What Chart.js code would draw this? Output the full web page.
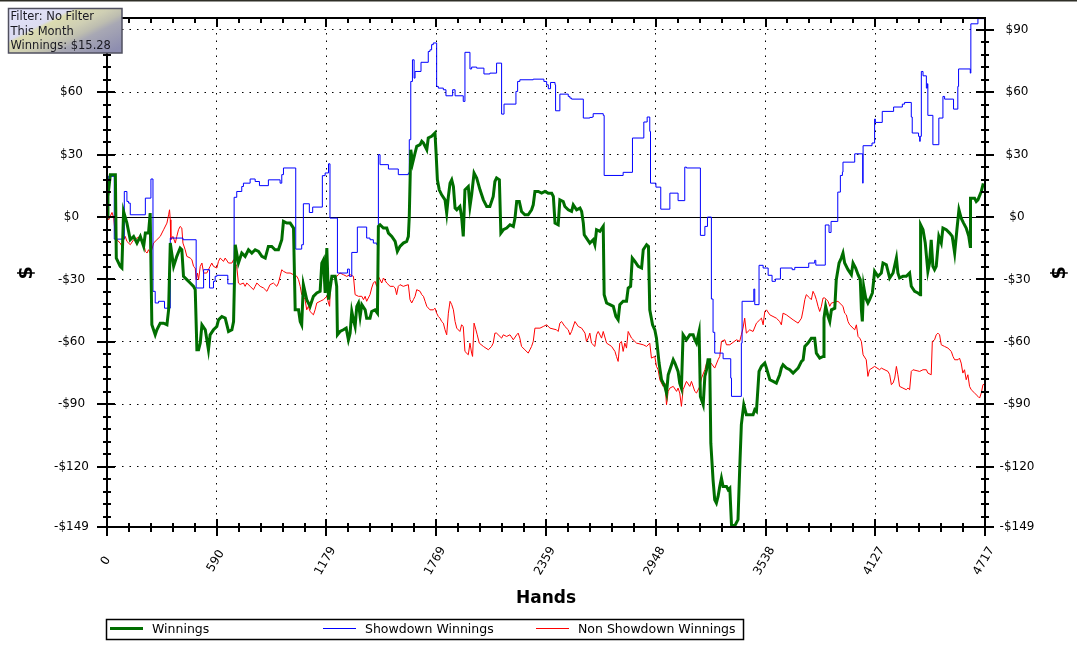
<!DOCTYPE html>
<html><head><meta charset="utf-8">
<script src="https://cdn.jsdelivr.net/npm/chart.js@4.4.0/dist/chart.umd.min.js"></script>
<style>html,body{margin:0;padding:0;background:#fff;overflow:hidden}#wrap{position:relative;width:1077px;height:649px}</style>
</head><body><div id="wrap"><canvas id="c" width="1077" height="649"></canvas></div>
<script>
// ---- data ----
const winHands=[0,5,18,45,50,71,80,89,107,125,143,161,179,197,206,223,232,241,259,268,286,304,322,331,340,358,375,393,402,411,429,447,465,474,483,492,501,510,528,545,554,572,590,599,617,635,653,671,680,689,706,724,742,760,778,796,814,832,850,867,885,903,921,939,948,966,984,1002,1011,1029,1038,1046,1055,1073,1091,1109,1127,1145,1154,1163,1172,1181,1190,1208,1226,1234,1238,1252,1270,1285,1297,1306,1315,1324,1333,1342,1351,1360,1369,1387,1395,1413,1422,1440,1453,1458,1467,1485,1503,1512,1530,1548,1560,1574,1592,1610,1619,1624,1632,1642,1655,1664,1682,1691,1700,1718,1726,1744,1762,1768,1775,1785,1798,1816,1825,1834,1843,1852,1861,1870,1879,1896,1905,1914,1923,1941,1950,1959,1972,1986,2004,2022,2040,2057,2075,2084,2093,2108,2116,2129,2147,2165,2183,2192,2201,2215,2227,2245,2263,2281,2290,2299,2317,2335,2353,2370,2389,2398,2407,2424,2433,2451,2460,2478,2496,2505,2523,2541,2550,2559,2564,2576,2594,2612,2621,2630,2648,2666,2671,2684,2702,2720,2734,2746,2755,2773,2791,2800,2813,2822,2836,2854,2872,2881,2899,2909,2916,2931,2943,2952,2966,2979,2997,3006,3015,3024,3042,3051,3068,3077,3086,3095,3113,3131,3149,3158,3167,3181,3188,3203,3212,3221,3229,3238,3244,3256,3265,3274,3283,3292,3301,3310,3328,3337,3346,3355,3373,3390,3399,3408,3421,3435,3471,3480,3489,3503,3516,3534,3543,3561,3579,3596,3614,3623,3632,3650,3668,3686,3704,3713,3731,3740,3749,3766,3784,3802,3811,3829,3847,3852,3861,3874,3883,3892,3910,3918,3933,3945,3954,3963,3981,3999,4008,4022,4035,4047,4053,4058,4065,4076,4088,4097,4112,4124,4142,4160,4169,4187,4205,4223,4241,4249,4258,4276,4294,4312,4321,4339,4357,4369,4371,4384,4396,4410,4419,4428,4437,4446,4455,4469,4482,4491,4509,4527,4541,4554,4566,4577,4589,4602,4616,4630,4638,4639,4661,4670,4679,4697,4706,4717];
const winValues=[0,10,20.4,20.4,-19.7,-23.7,-24.5,2.7,-2.9,-10.9,-9.3,-12.5,-9.3,-14.1,-7.7,-7.7,1.9,-51.8,-56.6,-54.2,-51,-51,-51.8,-44.6,-12.5,-23.7,-18.9,-14.9,-15.7,-28.5,-30.1,-31.7,-33.3,-34.9,-63.8,-63.8,-60.6,-51.8,-54.2,-63.8,-56.6,-54.2,-52.6,-49.4,-47.8,-48.6,-55,-54.2,-50.2,-13.3,-22.1,-17.3,-18.9,-15.7,-17.3,-15.7,-16.5,-18.9,-19.7,-14.1,-14.1,-15.7,-15.7,-10.9,-2.1,-2.9,-2.9,-5.3,-44.6,-44.6,-50.2,-51.8,-32.5,-39.7,-42.9,-38.1,-36.5,-35.7,-22.1,-20.5,-36.5,-14.9,-39.7,-28.5,-28.5,-33.3,-56.6,-55,-54.2,-53.4,-59,-55.8,-45.4,-49.4,-52.6,-42.9,-41.3,-47.8,-42.1,-44.6,-48.6,-48.6,-45.4,-44.6,-46.2,-4.5,-3.7,-5.3,-5.3,-7.7,-9.3,-11.7,-16.5,-14.1,-12.5,-11.7,-9.3,0.3,32.4,26,30.8,34,34.8,36.4,35.6,32.4,38,38.8,40.4,30.8,17.9,13.1,10.7,8.3,1.9,9.9,16.3,17.9,14.7,4.3,3.5,5.1,0.3,-9.3,13.1,14.7,5.1,10.7,21.2,18.8,13.1,8.3,5.1,5.1,9.9,17.1,18.8,17.9,-7.7,-6.1,-5.3,-3.7,-4.5,-0.5,7.5,7.5,2.7,1.1,1.1,3.5,5.9,12.3,12.3,11.5,12.3,11.5,11.5,9.9,-2.9,-3.7,8.3,7.5,5.1,3.5,2.7,5.9,3.5,4.3,2.7,-2.9,-8.5,-10.1,-12.5,-10.9,-13.3,-6.1,-6.9,-4.5,-37.3,-41.3,-42.1,-42.9,-47.8,-49.4,-42.1,-40.5,-40.5,-34.1,-33.3,-19.7,-21.3,-23.7,-24.5,-15.7,-13.3,-14.1,-44.6,-51.8,-54.2,-58.2,-70.2,-78.2,-81.4,-84.6,-75.8,-73.4,-68.6,-70.2,-74.2,-79.8,-82.2,-56.6,-59,-56.6,-56.6,-59,-60.6,-55,-86.2,-90.2,-76.6,-73.4,-68.6,-68.6,-108.7,-126.3,-135.9,-137.5,-134.3,-129.5,-125.5,-129.5,-129.5,-131.1,-130.3,-147.9,-148.4,-145.5,-121.5,-99.8,-90.2,-95,-95,-92.6,-93.4,-74.2,-71.8,-70.2,-72.6,-78.2,-79,-79.8,-75.8,-72.6,-71,-72.6,-73.4,-75,-73.4,-72.6,-69.4,-68.6,-62.2,-60.6,-58.2,-58.2,-65.4,-67.8,-67,-48.6,-42.9,-47.8,-50.2,-44.6,-43.8,-30.1,-22.1,-19.7,-17.3,-22.1,-25.3,-27.7,-22.1,-24.5,-27.7,-30.1,-44.6,-50.2,-33.3,-38.9,-41.3,-39.7,-36.5,-26.1,-28.5,-26.9,-22.1,-22.9,-29.3,-26.9,-19.7,-26.9,-29.3,-28.5,-28.5,-26.9,-33.3,-35.7,-36.5,-37.3,-3.7,-6.1,-12.5,-26.1,-22.1,-10.9,-23.7,-25.3,-23.7,-9.3,-12.5,-5.3,-6.1,-7.7,-9.3,-17.3,-6.1,3.5,-0.5,-2.9,-5.3,-9.3,-14.1,9.1,9.1,7.5,8.3,12.3,15.5,15.28];

const sdHands=[0,7,39,93,107,116,125,206,236,247,259,277,309,340,408,479,519,551,572,581,590,649,683,697,724,733,769,796,819,867,930,939,948,1014,1046,1055,1087,1105,1157,1172,1190,1198,1238,1292,1302,1315,1345,1395,1413,1431,1449,1458,1467,1512,1565,1619,1624,1632,1641,1650,1655,1687,1726,1735,1744,1753,1771,1780,1807,1821,1857,1870,1914,1923,1950,1959,1986,2025,2057,2093,2120,2133,2197,2206,2218,2290,2347,2362,2371,2383,2407,2410,2433,2478,2487,2496,2559,2594,2607,2612,2666,2671,2773,2823,2884,2902,2916,2920,2949,2975,3024,3068,3104,3113,3188,3212,3226,3247,3256,3265,3310,3351,3355,3408,3412,3475,3480,3503,3525,3552,3573,3591,3618,3681,3695,3770,3802,3808,3859,3879,3890,3926,3940,3951,3954,4017,4060,4062,4110,4124,4128,4165,4226,4273,4285,4321,4326,4360,4366,4369,4375,4384,4402,4407,4410,4437,4469,4491,4500,4548,4571,4575,4638,4641,4679,4717];
const sdValues=[0,19.6,-10.6,12.3,7.5,6.7,1.1,9.1,18.3,-35.7,-41.3,-40.5,-43.8,-10.1,-10.9,-34.1,-25.3,-34.1,-30.9,-28.5,-28,-32.1,9.5,12.3,14.7,16.3,18.3,17.1,15.1,17.9,16.3,20.4,23.6,-15.4,-13.3,6.4,2.2,4.8,19.9,21.2,25.6,-0.5,-26.9,-25,-28.5,-17,-4.8,-10.1,-10.9,-12.5,-13.3,30,25.2,23.1,20.4,21.2,37.2,65.2,75.6,66.8,70,74.4,79.6,80.4,82.9,83.7,62.8,62,61.2,58.3,61.2,58.3,55.6,79.2,71.2,72.1,71.6,68.8,69.2,74,49.5,54.3,60.4,65.2,66,66.3,65.2,63.6,61.7,64.7,63.6,51.1,59.1,58,57.2,56.7,47.6,47.9,48.1,49.7,48.9,20,21.5,38,45.7,48.1,41.2,16.3,14.4,3.8,11.5,7.9,24,23.6,-8.8,-4.5,0,-39.4,-55.4,-65.4,-68.1,-77.4,-86.2,-60.6,-40.5,-34.6,-42.1,-23.2,-24.5,-28,-30.9,-29.8,-24.5,-25.3,-24.2,-22.1,-20.8,-23.1,-3.8,-7.4,-2.1,12,20,21.6,26.4,30.4,16.3,34.3,35.6,47.1,45.5,50.8,52.9,54.3,55.1,48.1,40.4,38.8,36.4,38.8,70,67.9,62,64.1,48.9,34.8,47.6,58,56.7,51.9,62.8,71.2,69.2,92.9,95.4,95.4];

const nsdHands=[0,9,27,36,45,53,71,80,89,98,107,125,143,161,179,197,206,215,223,232,241,250,268,286,304,322,331,336,340,343,354,367,375,384,393,402,408,420,429,447,456,465,474,479,486,492,501,510,519,536,554,563,572,590,599,608,626,635,653,671,680,689,697,706,715,733,742,751,769,787,796,805,823,841,859,876,894,912,921,930,939,948,966,984,1002,1020,1029,1038,1046,1055,1064,1073,1082,1091,1109,1118,1127,1145,1163,1181,1190,1196,1202,1208,1226,1243,1252,1270,1288,1306,1324,1333,1351,1369,1378,1387,1395,1413,1422,1431,1440,1449,1458,1476,1485,1503,1521,1539,1548,1556,1565,1574,1592,1619,1628,1637,1646,1655,1664,1682,1691,1700,1709,1718,1735,1753,1762,1771,1780,1789,1798,1807,1816,1825,1834,1843,1852,1861,1870,1879,1896,1905,1914,1923,1941,1950,1959,1964,1972,1982,1989,2000,2022,2049,2066,2075,2084,2093,2120,2129,2147,2165,2183,2201,2209,2218,2227,2245,2263,2272,2281,2290,2299,2326,2344,2362,2380,2415,2424,2433,2442,2460,2478,2487,2496,2514,2532,2550,2568,2576,2585,2594,2603,2621,2630,2639,2657,2666,2684,2711,2729,2737,2746,2755,2764,2773,2782,2791,2800,2818,2845,2881,2899,2916,2925,2943,2952,2961,2970,2988,2997,3006,3015,3024,3042,3060,3068,3077,3086,3095,3113,3131,3140,3158,3167,3185,3194,3212,3221,3238,3265,3283,3292,3301,3319,3328,3346,3382,3399,3408,3417,3426,3435,3453,3471,3489,3507,3516,3525,3534,3543,3561,3596,3614,3623,3632,3650,3686,3713,3731,3740,3749,3757,3775,3784,3793,3802,3811,3820,3829,3838,3847,3856,3874,3883,3892,3927,3954,3963,3972,3981,3990,4008,4017,4026,4035,4044,4053,4062,4079,4088,4097,4124,4151,4160,4196,4205,4214,4223,4232,4241,4249,4258,4276,4294,4303,4312,4321,4330,4366,4384,4402,4410,4428,4434,4446,4455,4464,4473,4482,4500,4518,4536,4545,4554,4572,4580,4589,4598,4607,4616,4625,4634,4643,4661,4679,4688,4697,4706,4717];
const nsdValues=[0,-1.3,2.2,-0.3,-9.3,-10.9,-12.5,-14.1,-10.9,-9.3,-11.7,-13.3,-10.9,-10.1,-9.3,-12.5,-16.5,-17.3,-15.7,-17.3,-15.7,-12.5,-10.9,-9.3,-6.1,-2.9,1.1,3.5,-1.3,-10.9,-9.3,-12.5,-9.3,-6.1,-4.5,-5.3,-12.5,-15.7,-18.9,-19.7,-20.5,-23.7,-24.5,-30.1,-26.9,-30.1,-23.7,-22.1,-26.9,-26.9,-23.7,-22.1,-23.7,-24.5,-21.3,-19.7,-21.3,-19.7,-22.1,-22.1,-20.5,-22.1,-23.7,-31.7,-32.4,-31.7,-33.3,-31.7,-33.3,-34.9,-33.3,-31.7,-33.3,-34.1,-35.7,-32.5,-31.7,-33.3,-31.7,-28.5,-25.3,-26.1,-26.9,-26.9,-27.7,-28.5,-30.1,-33.3,-37.3,-38.1,-39.7,-44.6,-42.9,-45.4,-47,-44.6,-41.3,-40.5,-39.7,-38.1,-41.3,-42.9,-30,-28.5,-29.3,-27.7,-26.9,-27.7,-28.5,-27.7,-28.5,-37.3,-38.1,-38.1,-39.7,-38.1,-40.5,-37.3,-34.1,-31.7,-30.9,-33.3,-28.5,-31.7,-29.3,-31.7,-33.3,-33.3,-34.1,-37.3,-33.3,-32.5,-33.3,-32.5,-39.7,-41.3,-39.7,-38.1,-34.9,-35.7,-37.3,-38.1,-40.5,-42.9,-44.6,-44.6,-43.8,-46.2,-47.8,-48.6,-50.2,-51,-54.2,-56.6,-46.2,-40.5,-42.1,-44.6,-50.2,-53.4,-55,-51.8,-52.6,-64.6,-66.2,-60.6,-65.4,-67,-51,-54.2,-56.6,-60.6,-62.2,-63.8,-62.2,-60.6,-55.8,-55.8,-58.2,-56.6,-57.4,-56.6,-59,-56.6,-55.8,-58.2,-62.2,-63.8,-65.4,-63.8,-62.2,-59.8,-53.4,-53.4,-52.6,-51.8,-53.4,-54.2,-55,-51,-50.2,-52.6,-54.2,-56.6,-55,-50.2,-52.6,-53.4,-55.8,-59.8,-58.2,-55.8,-60.6,-62.2,-56.6,-55,-58.2,-55,-60.6,-62.2,-64.6,-67,-69.4,-60.6,-59.8,-64.6,-60.6,-63,-55,-58.2,-60.6,-61.4,-62.2,-60.6,-67.8,-67,-71.8,-73.4,-78.2,-81.4,-79.8,-90.2,-83.8,-82.2,-81.4,-83.8,-82.2,-84.6,-91,-83,-79,-81.4,-79,-83.8,-84.6,-81.4,-77.4,-73.4,-70.2,-69.4,-72.6,-68.6,-67,-59.8,-59,-61.4,-61.4,-59,-59.8,-56.6,-53.4,-48.6,-55.8,-54.2,-55,-51,-49.4,-48.6,-51.8,-45.4,-44.6,-47,-48.6,-50.2,-51.8,-46.2,-47,-49.4,-51,-48.6,-44.6,-39.7,-37.3,-38.9,-39.7,-35.7,-37.3,-39.7,-42.9,-45.4,-42.9,-38.9,-38.9,-40.5,-42.9,-41.3,-40.5,-42.9,-46.2,-47,-50.2,-51.8,-53.4,-54.2,-51.8,-57.4,-58.2,-59.8,-66.2,-68.6,-76.6,-73.4,-71.8,-73.4,-72.6,-74.2,-75.8,-80.6,-79.8,-77.4,-71.8,-75.8,-81.4,-82.2,-83,-82.2,-83,-74.2,-73.4,-74.2,-73.4,-73.4,-75,-75.8,-59.8,-59,-56.6,-55.8,-56.6,-61.4,-62.2,-63,-64.6,-67,-68.6,-68.6,-67.8,-70.2,-75,-73.4,-78.2,-75.8,-81.4,-83,-84.6,-86.2,-87,-84.6,-80.6,-80.2];

const xTickLabels=['0','590','1179','1769','2359','2948','3538','4127','4717'];
const yTickValues=[90,60,30,0,-30,-60,-90,-120,-149];
const yTickLabels=['$90','$60','$30','$0','-$30','-$60','-$90','-$120','-$149'];
const infoLines=['Filter: No Filter','This Month','Winnings: $15.28'];
const seriesNames=['Winnings','Showdown Winnings','Non Showdown Winnings'];
const xTitle='Hands';
const yTitle='$';

// ---- chart ----
const toPts=(xs,ys)=>xs.map((x,i)=>({x:x,y:ys[i]}));
const xMajor=xTickLabels.map(Number);
const FONT='"DejaVu Sans", Verdana, sans-serif';

const framePlugin={
  id:'frame',
  beforeDatasetsDraw(chart){
    const {ctx,chartArea:a,scales:{y}}=chart;
    const y0=Math.round(y.getPixelForValue(0))+0.5;
    ctx.save();ctx.strokeStyle='#000';ctx.lineWidth=1;
    ctx.beginPath();ctx.moveTo(a.left,y0);ctx.lineTo(a.right,y0);ctx.stroke();
    ctx.restore();
  },
  afterDatasetsDraw(chart){
    const {ctx,chartArea:a,scales:{x,y}}=chart;
    ctx.save();
    ctx.strokeStyle='#000';ctx.lineWidth=2;
    ctx.beginPath();
    ctx.moveTo(a.left,a.top);ctx.lineTo(a.right,a.top);ctx.lineTo(a.right,a.bottom);ctx.lineTo(a.left,a.bottom);ctx.closePath();
    ctx.stroke();
    // x ticks
    ctx.beginPath();
    for(let i=0;i<xMajor.length;i++){
      const subs=(i<xMajor.length-1)?5:1;
      for(let k=0;k<subs;k++){
        const v=(k===0)?xMajor[i]:xMajor[i]+(xMajor[i+1]-xMajor[i])*k/5;
        const px=Math.round(x.getPixelForValue(v));
        const maj=(k===0);
        ctx.moveTo(px,a.bottom-(maj?8:4));ctx.lineTo(px,a.bottom+(maj?9:5));
        ctx.moveTo(px,a.top);ctx.lineTo(px,a.top+(maj?9:5));
      }
    }
    // y ticks
    const step=(yTickValues[0]-yTickValues[1])/5;
    for(let v=yTickValues[0];v>y.min;v-=step){
      const py=Math.round(y.getPixelForValue(v));
      const maj=yTickValues.includes(Math.round(v*100)/100);
      ctx.moveTo(a.left-(maj?10:4),py);ctx.lineTo(a.left+(maj?8:4),py);
      ctx.moveTo(a.right-(maj?9:4),py);ctx.lineTo(a.right+(maj?9:4),py);
    }
    {const py=Math.round(y.getPixelForValue(y.min));
     ctx.moveTo(a.left-10,py);ctx.lineTo(a.left+8,py);
     ctx.moveTo(a.right-9,py);ctx.lineTo(a.right+9,py);}
    ctx.stroke();
    // y labels
    ctx.fillStyle='#000';ctx.font='12px '+FONT;ctx.textAlign='center';ctx.textBaseline='middle';
    yTickValues.forEach((v,i)=>{
      const py=y.getPixelForValue(v);
      ctx.fillText(yTickLabels[i],71.5,py);
      ctx.fillText(yTickLabels[i],1017,py);
    });
    // x labels rotated
    xMajor.forEach((v,i)=>{
      const px=x.getPixelForValue(v);
      ctx.save();ctx.translate(px-1,561);ctx.rotate(-Math.PI/3);
      ctx.fillText(xTickLabels[i],0,0);ctx.restore();
    });
    // axis titles
    ctx.font='bold 17px '+FONT;
    ctx.fillText(xTitle,(a.left+a.right)/2,599);
    ctx.font='bold 19px '+FONT;
    [[27,273],[1060,273]].forEach(p=>{
      ctx.save();ctx.translate(p[0],p[1]);ctx.rotate(-Math.PI/2);ctx.fillText(yTitle,0,0);ctx.restore();
    });
    // legend
    ctx.lineWidth=1.5;ctx.strokeStyle='#000';
    ctx.strokeRect(106.5,619.5,637,20);
    ctx.font='12.5px '+FONT;ctx.textAlign='left';
    chart.data.datasets.forEach((ds,i)=>{
      const x0=110+i*213;
      ctx.strokeStyle=ds.borderColor;ctx.lineWidth=ds.borderWidth;
      ctx.beginPath();ctx.moveTo(x0,628.5);ctx.lineTo(x0+33,628.5);ctx.stroke();
      ctx.fillStyle='#000';ctx.fillText(ds.label,x0+42,629.5);
    });
    // info box
    const g=ctx.createLinearGradient(40,0,75,70);
    g.addColorStop(0,'#e2e2fa');g.addColorStop(0.28,'#dcdcf0');g.addColorStop(0.32,'#dcdcb0');
    g.addColorStop(0.5,'#cfcfb4');g.addColorStop(0.62,'#bdbdb0');g.addColorStop(0.7,'#a8a8b4');g.addColorStop(1,'#8e8eb0');
    ctx.fillStyle=g;ctx.fillRect(8,8,114,45);
    ctx.strokeStyle='#505060';ctx.lineWidth=1.5;ctx.strokeRect(8.5,8.5,113.5,44.5);
    ctx.fillStyle='#1a1a22';ctx.font='11.5px '+FONT;ctx.textBaseline='alphabetic';
    infoLines.forEach((t,i)=>ctx.fillText(t,10.5,20+i*14.5));
    // top border
    ctx.fillStyle='#2e2e26';ctx.fillRect(0,0,1077,1.5);
    ctx.restore();
  }
};

new Chart(document.getElementById('c').getContext('2d'),{
  type:'line',
  data:{datasets:[
    {label:seriesNames[0],data:toPts(winHands,winValues),borderColor:'#006e00',borderWidth:3,pointRadius:0,tension:0,fill:false},
    {label:seriesNames[1],data:toPts(sdHands,sdValues),borderColor:'#0000ff',borderWidth:1,pointRadius:0,stepped:true,fill:false},
    {label:seriesNames[2],data:toPts(nsdHands,nsdValues),borderColor:'#ff0000',borderWidth:1,pointRadius:0,tension:0,fill:false}
  ]},
  options:{
    responsive:false,animation:false,
    layout:{padding:{top:18,right:92,left:0,bottom:0}},
    plugins:{legend:{display:false},tooltip:{enabled:false}},
    scales:{
      x:{type:'linear',min:0,max:xMajor[xMajor.length-1],
        ticks:{display:false},
        grid:{color:'#000',lineWidth:1,drawTicks:false},
        border:{display:false,dash:[1.5,6]},
        afterBuildTicks:s=>{s.ticks=xMajor.slice(1,-1).map(v=>({value:v}));},
        afterFit:s=>{s.height=122;}},
      y:{type:'linear',min:yTickValues[yTickValues.length-1],max:95.7,
        ticks:{display:false},
        grid:{color:'#000',lineWidth:1,drawTicks:false},
        border:{display:false,dash:[1.5,6]},
        afterBuildTicks:s=>{s.ticks=yTickValues.filter(v=>v!==0&&v!==yTickValues[yTickValues.length-1]).map(v=>({value:v}));},
        afterFit:s=>{s.width=107;}}
    }
  },
  plugins:[framePlugin]
});
</script></body></html>
